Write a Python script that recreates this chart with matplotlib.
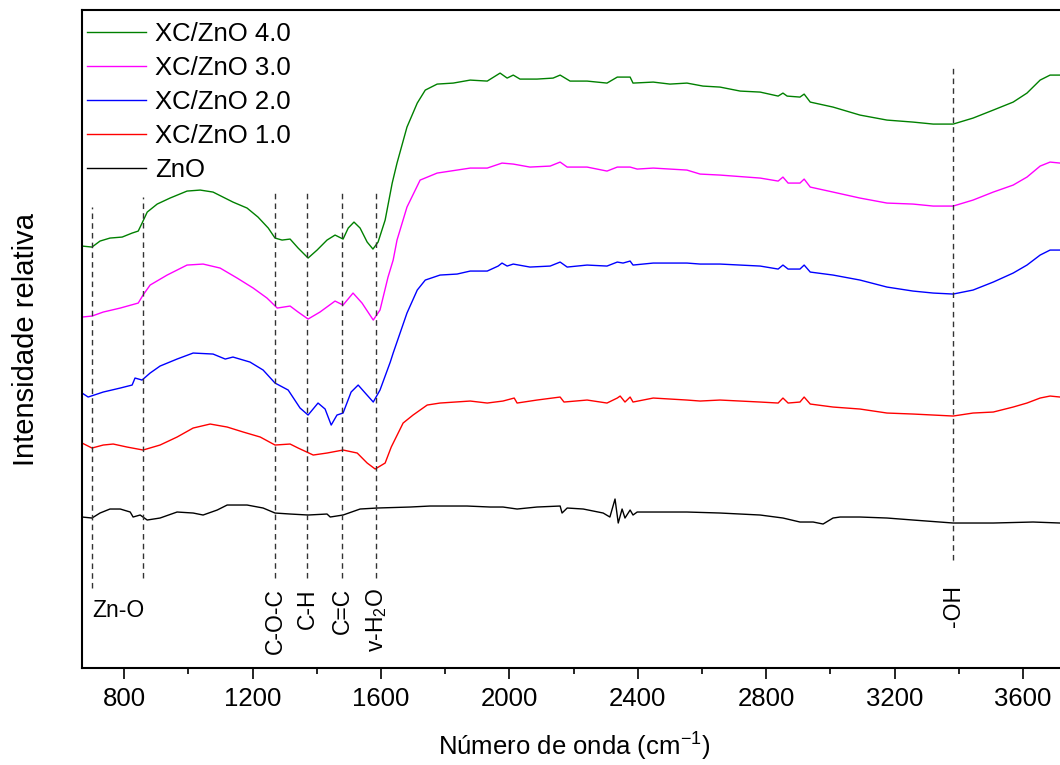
import matplotlib
matplotlib.use("Agg")
import matplotlib.pyplot as plt
from matplotlib.ticker import MultipleLocator

plt.rcParams['font.family'] = ['Liberation Sans', 'DejaVu Sans']
plt.rcParams['mathtext.fontset'] = 'custom'
plt.rcParams['mathtext.rm'] = 'Liberation Sans'
plt.rcParams['mathtext.it'] = 'Liberation Sans:italic'

# FTIR spectra (wavenumber in cm-1, relative intensity in arbitrary units, offset)
wn_zno = [669, 700, 725, 756, 788, 819, 828, 850, 872, 912, 965, 1015, 1046, 1090, 1121,
          1183, 1233, 1270, 1317, 1373, 1432, 1442, 1482, 1535, 1588, 1691, 1753, 1868,
          1940, 1980, 2024, 2086, 2158, 2164, 2180, 2230, 2292, 2313, 2329, 2339, 2351,
          2360, 2376, 2385, 2398, 2448, 2553, 2656, 2781, 2852, 2905, 2946, 2977, 3008,
          3030, 3092, 3176, 3257, 3382, 3507, 3631, 3715]
i_zno = [151, 150, 155, 159, 159, 156, 151, 153, 148, 150, 156, 155, 153, 158, 163,
         163, 160, 155, 154, 153, 154, 151, 153, 159, 160, 161, 162, 162,
         161, 161, 159, 161, 162, 155, 160, 159, 155, 151, 169, 145, 159,
         150, 158, 153, 156, 156, 156, 155, 153, 150, 146, 146, 144, 150,
         151, 151, 150, 148, 145, 145, 146, 145]

wn_xc1 = [669, 700, 735, 766, 809, 859, 912, 965, 1015, 1068, 1121, 1171, 1224, 1270,
          1317, 1342, 1389, 1432, 1482, 1526, 1557, 1582, 1613, 1632, 1669, 1700, 1744,
          1784, 1878, 1931, 1980, 2015, 2024, 2086, 2158, 2170, 2242, 2304, 2336, 2345,
          2360, 2376, 2385, 2448, 2553, 2594, 2656, 2781, 2837, 2852, 2868, 2905, 2918,
          2937, 3008, 3092, 3176, 3257, 3320, 3382, 3444, 3507, 3569, 3612, 3653, 3684, 3715]
i_xc1 = [225, 220, 223, 224, 221, 218, 223, 231, 240, 244, 241, 236, 231, 223,
         224, 220, 213, 215, 218, 215, 205, 199, 205, 221, 245, 253, 263,
         265, 267, 265, 267, 270, 265, 268, 271, 266, 268, 265, 270, 272,
         266, 271, 266, 270, 268, 267, 268, 266, 265, 270, 265, 266, 271,
         264, 261, 259, 255, 254, 253, 252, 255, 256, 261, 265, 270, 272, 271]

wn_xc2 = [669, 688, 735, 788, 825, 834, 856, 881, 912, 965, 1015, 1077, 1115, 1139,
          1192, 1233, 1270, 1311, 1348, 1373, 1404, 1426, 1445, 1463, 1482, 1507, 1529,
          1551, 1576, 1597, 1629, 1638, 1681, 1713, 1738, 1784, 1837, 1878, 1931, 1965,
          1977, 1993, 2012, 2064, 2127, 2158, 2180, 2242, 2304, 2336, 2354, 2376, 2385,
          2448, 2553, 2594, 2656, 2781, 2837, 2852, 2868, 2905, 2918, 2937, 3008, 3092,
          3176, 3257, 3320, 3382, 3444, 3507, 3569, 3612, 3653, 3684, 3715]
i_xc2 = [275, 271, 276, 280, 283, 290, 288, 295, 302, 309, 315, 314, 309, 311,
         306, 298, 285, 278, 260, 253, 265, 259, 243, 253, 255, 276, 283,
         275, 266, 278, 306, 315, 355, 378, 388, 393, 394, 397, 397, 402,
         405, 402, 404, 401, 402, 406, 401, 403, 402, 406, 405, 407, 403,
         405, 405, 404, 404, 402, 399, 403, 399, 399, 403, 396, 393, 388,
         381, 377, 375, 374, 378, 386, 395, 403, 413, 418, 418]

wn_xc3 = [669, 700, 735, 788, 844, 859, 881, 934, 996, 1046, 1099, 1152, 1202, 1245,
          1277, 1317, 1342, 1373, 1410, 1457, 1482, 1513, 1541, 1576, 1597, 1622, 1638,
          1650, 1681, 1722, 1775, 1878, 1931, 1977, 2012, 2064, 2127, 2158, 2180, 2242,
          2304, 2336, 2376, 2398, 2448, 2553, 2594, 2656, 2781, 2837, 2852, 2868, 2905,
          2918, 2937, 3008, 3092, 3176, 3257, 3320, 3382, 3444, 3507, 3569, 3612, 3653,
          3684, 3715]
i_xc3 = [351, 352, 356, 360, 365, 373, 383, 393, 403, 404, 400, 390, 380, 370,
         360, 362, 356, 349, 356, 367, 363, 375, 365, 348, 358, 391, 408,
         428, 461, 488, 495, 500, 500, 505, 504, 501, 502, 506, 501, 501,
         497, 501, 501, 499, 500, 498, 494, 493, 490, 487, 491, 485, 485,
         489, 481, 476, 470, 465, 464, 462, 462, 468, 476, 483, 491, 502,
         506, 505]

wn_xc4 = [669, 700, 725, 756, 794, 825, 844, 856, 872, 903, 943, 996, 1037, 1077, 1108,
          1139, 1183, 1217, 1249, 1270, 1292, 1317, 1342, 1373, 1401, 1432, 1457, 1482,
          1498, 1516, 1535, 1557, 1575, 1591, 1613, 1635, 1650, 1681, 1713, 1738, 1775,
          1825, 1878, 1931, 1971, 1993, 2012, 2033, 2086, 2136, 2158, 2189, 2242, 2304,
          2336, 2376, 2385, 2448, 2500, 2553, 2603, 2656, 2719, 2781, 2837, 2852, 2865,
          2905, 2918, 2937, 3008, 3092, 3176, 3257, 3320, 3382, 3444, 3507, 3569, 3612,
          3653, 3684, 3715]
i_xc4 = [422, 421, 427, 430, 431, 435, 437, 445, 456, 464, 470, 477, 478, 476, 471,
         466, 460, 451, 440, 430, 428, 429, 420, 410, 418, 428, 433, 429,
         440, 446, 440, 426, 419, 426, 448, 485, 505, 541, 565, 578, 584,
         585, 588, 587, 595, 590, 593, 589, 589, 590, 593, 587, 587, 585,
         591, 591, 585, 586, 584, 585, 582, 581, 577, 576, 572, 575, 572,
         571, 574, 566, 561, 553, 548, 546, 544, 544, 550, 558, 566, 575,
         588, 593, 593]

series = [
    ('XC/ZnO 4.0', wn_xc4, i_xc4, '#008000'),
    ('XC/ZnO 3.0', wn_xc3, i_xc3, '#ff00ff'),
    ('XC/ZnO 2.0', wn_xc2, i_xc2, '#0000ff'),
    ('XC/ZnO 1.0', wn_xc1, i_xc1, '#ff0000'),
    ('ZnO', wn_zno, i_zno, '#000000'),
]

# band assignments
bands = [700, 860, 1270, 1370, 1480, 1585]
band_labels = ['C-O-C', 'C-H', 'C=C', r'v-H$_2$O']
band_label_pos = [1270, 1370, 1480, 1585]
oh_band = 3383

fig = plt.figure(figsize=(10.6, 7.65), dpi=100)
ax = fig.add_axes([0.0774, 0.1268, 0.9287, 0.860])

for label, x, y, c in series:
    ax.plot(x, y, color=c, lw=1, label=label)

for b in bands:
    top = 478 if b > 1000 else (461 if b < 800 else 471)
    bot = 80 if b < 800 else 90
    ax.plot([b, b], [bot, top], ls=(0, (4, 3)), color='#333333', lw=1)
ax.plot([oh_band, oh_band], [108, 603], ls=(0, (4, 3)), color='#333333', lw=1)

ax.text(700, 58, 'Zn-O', fontsize=16.5, ha='left', va='center')
for xb, lab in zip(band_label_pos, band_labels):
    ax.text(xb, 80, lab, rotation=90, fontsize=16.5, ha='center', va='top')
ax.text(oh_band, 83, '-OH', rotation=90, fontsize=16.5, ha='center', va='top')

ax.set_xlim(669, 3735)
ax.set_ylim(0, 658)
ax.set_yticks([])
ax.xaxis.set_major_locator(MultipleLocator(400))
ax.xaxis.set_minor_locator(MultipleLocator(200))
ax.tick_params(axis='x', which='major', direction='out', length=8, width=1.2,
               labelsize=18.5, pad=6)
ax.tick_params(axis='x', which='minor', direction='out', length=4, width=1.2)
for s in ax.spines.values():
    s.set_linewidth(1.5)

ax.set_xlabel('Número de onda (cm$^{-1}$)', fontsize=18.5, labelpad=14)
ax.set_ylabel('Intensidade relativa', fontsize=21, labelpad=30)

ax.legend(loc='upper left', bbox_to_anchor=(-0.005, 0.997), frameon=False,
          fontsize=18.5, handlelength=2.3, handletextpad=0.35,
          labelspacing=0.39, borderaxespad=0.2, borderpad=0.2)

fig.savefig('out.png', dpi=100)
